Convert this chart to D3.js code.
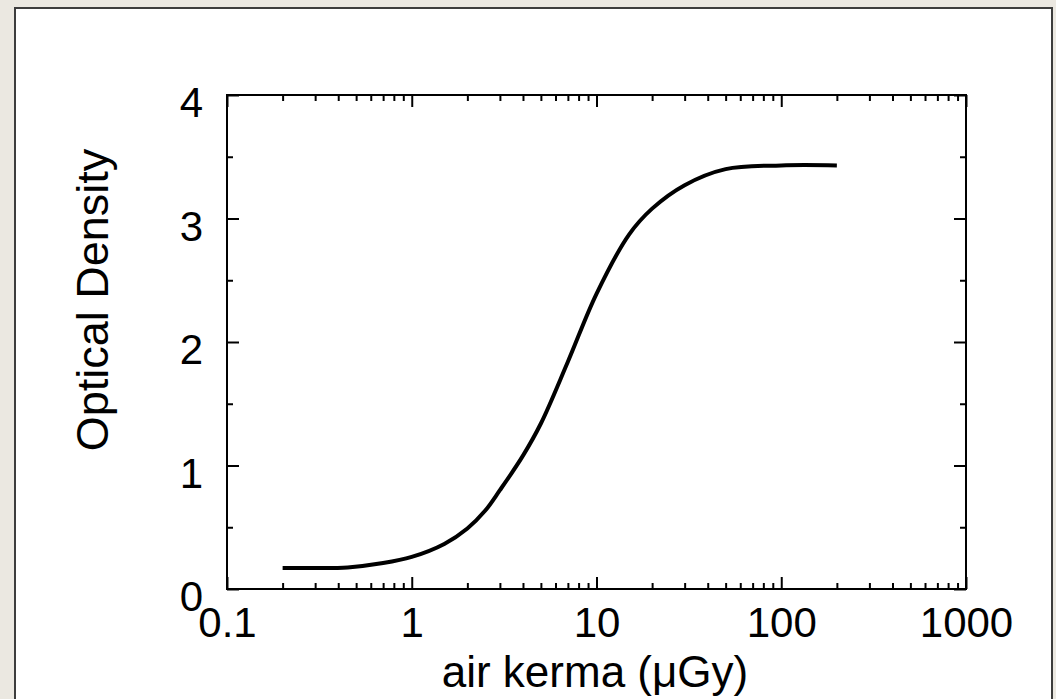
<!DOCTYPE html>
<html>
<head>
<meta charset="utf-8">
<script src="https://cdn.jsdelivr.net/npm/d3@7"></script>
<style>
  body { margin: 0; background: #ebe8e1; }
  text { font-family: "Liberation Sans", Arial, Helvetica, sans-serif; fill: #000; }
</style>
</head>
<body>
<div id="chart"></div>
<script>
// data (air kerma in uGy vs optical density)
var kerma   = [0.2, 0.3, 0.45, 0.7, 1, 1.5, 2, 2.5, 3, 4, 5, 7, 10, 15, 20, 30, 50, 100, 200];
var density = [0.17, 0.17, 0.175, 0.21, 0.26, 0.365, 0.49, 0.635, 0.80, 1.08, 1.34, 1.84, 2.39, 2.87, 3.08, 3.27, 3.40, 3.43, 3.43];

var xMajor = [0.1, 1, 10, 100, 1000];
var xLabels = ["0.1", "1", "10", "100", "1000"];
var yMajor = [0, 1, 2, 3, 4];
var yMinor = [0.5, 1.5, 2.5, 3.5];

var W = 1056, H = 699;
var margin = {top: 95, right: 90, bottom: 110, left: 227},
    width = 966 - margin.left,
    height = 589 - margin.top;

var svg = d3.select("#chart")
  .append("svg")
    .attr("width", W)
    .attr("height", H);

// page frame
svg.append("rect")
    .attr("x", 15).attr("y", 8)
    .attr("width", 1052 - 15).attr("height", H)
    .attr("fill", "#fff")
    .attr("stroke", "#3d3d3d")
    .attr("stroke-width", 2);

var g = svg.append("g")
    .attr("transform", "translate(" + margin.left + "," + margin.top + ")");

var x = d3.scaleLog()
    .domain([0.1, 1000])
    .range([0, width]);

var y = d3.scaleLinear()
    .domain([0, 4])
    .range([height, 0]);

// minor log ticks 2..9 in each decade
var xMinor = [];
xMajor.slice(0, -1).forEach(function(d) {
  for (var k = 2; k <= 9; k++) xMinor.push(d * k);
});

function styleAxis(sel) {
  sel.selectAll("path").remove();
  sel.selectAll("line").attr("stroke", "#000").attr("stroke-width", 2);
}

// bottom axis, ticks point inward
g.append("g")
    .attr("transform", "translate(0," + height + ")")
    .call(d3.axisBottom(x).tickValues(xMinor).tickSize(-6).tickFormat(""))
    .call(styleAxis);
var bx = g.append("g")
    .attr("transform", "translate(0," + height + ")")
    .call(d3.axisBottom(x).tickValues(xMajor).tickSize(-12).tickPadding(18)
      .tickFormat(function(d, i) { return xLabels[i]; }))
    .call(styleAxis);
bx.selectAll("text").attr("font-size", 42).attr("fill", "#000");

// top axis
g.append("g")
    .call(d3.axisTop(x).tickValues(xMinor).tickSize(-6).tickFormat(""))
    .call(styleAxis);
g.append("g")
    .call(d3.axisTop(x).tickValues(xMajor).tickSize(-12).tickFormat(""))
    .call(styleAxis);

// left axis
g.append("g")
    .call(d3.axisLeft(y).tickValues(yMinor).tickSize(-6).tickFormat(""))
    .call(styleAxis);
var ly = g.append("g")
    .call(d3.axisLeft(y).tickValues(yMajor).tickSize(-12).tickPadding(24).tickFormat(d3.format("d")))
    .call(styleAxis);
ly.selectAll("text").attr("font-size", 42).attr("dy", "0.52em").attr("fill", "#000");

// right axis
g.append("g")
    .attr("transform", "translate(" + width + ",0)")
    .call(d3.axisRight(y).tickValues(yMinor).tickSize(-6).tickFormat(""))
    .call(styleAxis);
g.append("g")
    .attr("transform", "translate(" + width + ",0)")
    .call(d3.axisRight(y).tickValues(yMajor).tickSize(-12).tickFormat(""))
    .call(styleAxis);

// plot frame
g.append("rect")
    .attr("width", width)
    .attr("height", height)
    .attr("fill", "none")
    .attr("stroke", "#000")
    .attr("stroke-width", 2);

// the curve
var pts = kerma.map(function(k, i) { return [k, density[i]]; });
g.append("path")
    .datum(pts)
    .attr("fill", "none")
    .attr("stroke", "#000")
    .attr("stroke-width", 4)
    .attr("stroke-linejoin", "round")
    .attr("d", d3.line()
      .x(function(d) { return x(d[0]); })
      .y(function(d) { return y(d[1]); })
      .curve(d3.curveCatmullRom.alpha(0.5)));

// axis titles
svg.append("text")
    .attr("x", 595)
    .attr("y", 687)
    .attr("text-anchor", "middle")
    .attr("font-size", 44)
    .text("air kerma (μGy)");

svg.append("text")
    .attr("transform", "translate(108,300) rotate(-90)")
    .attr("text-anchor", "middle")
    .attr("font-size", 45)
    .text("Optical Density");
</script>
</body>
</html>
